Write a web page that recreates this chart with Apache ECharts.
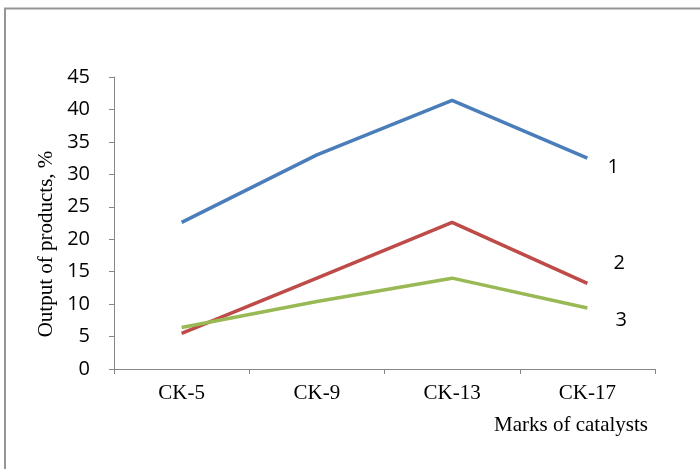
<!DOCTYPE html>
<html>
<head>
<meta charset="utf-8">
<script src="https://cdn.jsdelivr.net/npm/echarts@6/dist/echarts.min.js"></script>
<style>html,body{margin:0;padding:0;background:#fff}#c{width:700px;height:469px}</style>
</head>
<body>
<div id="c"></div>
<script>
var categories = ['CK-5', 'CK-9', 'CK-13', 'CK-17'];
var series1 = [22.6, 33.0, 41.4, 32.5];
var series2 = [5.5, 14.0, 22.6, 13.2];
var series3 = [6.4, 10.4, 14.0, 9.4];
var seriesNames = ['1', '2', '3'];
var yTicks = { min: 0, max: 45, interval: 5 };
var xAxisTitle = 'Marks of catalysts';
var yAxisTitle = 'Output of products, %';

var chart = echarts.init(document.getElementById('c'), null, { renderer: 'canvas' });
var axisColor = '#868686';
var serif = '"Liberation Serif", "Times New Roman", serif';
var sans = '"Open Sans", "Liberation Sans", sans-serif';

function lineSeries(name, data, color, off) {
  return {
    type: 'line', name: name, data: data,
    symbol: 'none', smooth: false,
    lineStyle: { color: color, width: 3.5 },
    itemStyle: { color: color },
    endLabel: { show: true, formatter: name, distance: 0, offset: off,
      color: '#000', fontFamily: sans, fontSize: 20 },
    animation: false
  };
}

chart.setOption({
  animation: false,
  grid: { left: 114, right: 45, top: 77, bottom: 100 },
  xAxis: {
    type: 'category', data: categories, boundaryGap: true,
    axisLine: { lineStyle: { color: axisColor, width: 1 } },
    axisTick: { show: true, length: 5, alignWithLabel: false, lineStyle: { color: axisColor } },
    axisLabel: { color: '#000', fontFamily: serif, fontSize: 21, margin: 14 },
    splitLine: { show: false }
  },
  yAxis: {
    type: 'value', min: yTicks.min, max: yTicks.max, interval: yTicks.interval,
    axisLine: { show: true, lineStyle: { color: axisColor, width: 1 } },
    axisTick: { show: true, length: 5, lineStyle: { color: axisColor } },
    axisLabel: { color: '#000', fontFamily: sans, fontSize: 20, margin: 24 },
    splitLine: { show: false }
  },
  series: [
    lineSeries(seriesNames[0], series1, '#4A7EBB', [20, 9]),
    lineSeries(seriesNames[1], series2, '#BE4B48', [26, -20]),
    lineSeries(seriesNames[2], series3, '#98B954', [28, 12])
  ],
  graphic: [
    { type: 'rect', shape: { x: 5, y: 8.5, width: 800, height: 600 },
      style: { fill: 'none', stroke: '#969696', lineWidth: 2 }, silent: true },
    { type: 'text', x: 648, y: 425,
      style: { text: xAxisTitle, fill: '#000', font: '21px ' + serif, textAlign: 'right', textVerticalAlign: 'middle' } },
    { type: 'text', x: 46, y: 244, rotation: Math.PI / 2,
      style: { text: yAxisTitle, fill: '#000', font: '21px ' + serif, textAlign: 'center', textVerticalAlign: 'middle' } }
  ]
});
</script>
</body>
</html>
